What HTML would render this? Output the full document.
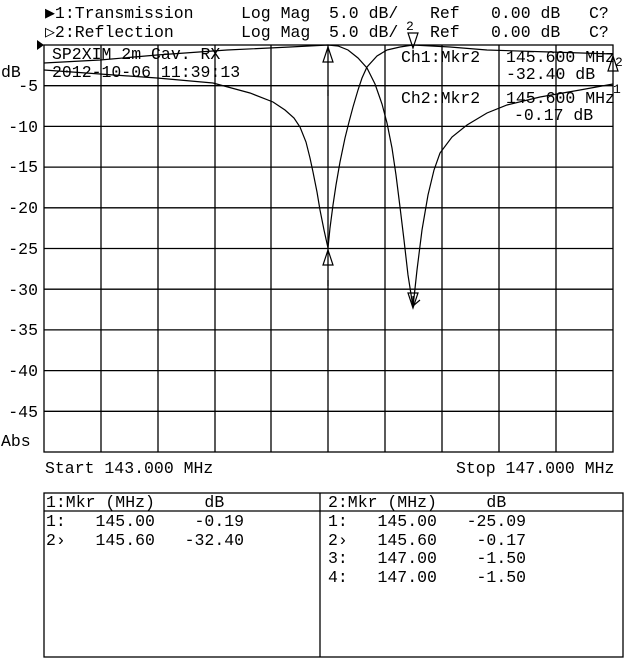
<!DOCTYPE html>
<html><head><meta charset="utf-8"><style>
body{margin:0;background:#fff;}
svg{display:block;}
text{font-family:"Liberation Mono","DejaVu Sans Mono",monospace;font-size:16.5px;fill:#000;white-space:pre;}
</style></head><body>
<svg width="640" height="659" viewBox="0 0 640 659" xmlns="http://www.w3.org/2000/svg" xml:space="preserve">
<rect width="640" height="659" fill="#fff"/>
<text x="45" y="18" style="font-size:16.5px">▶1:Transmission</text>
<text x="241" y="18">Log Mag</text>
<text x="329" y="18">5.0 dB/</text>
<text x="430" y="18">Ref</text>
<text x="491" y="18">0.00 dB</text>
<text x="589" y="18">C?</text>
<text x="45" y="37">▷2:Reflection</text>
<text x="241" y="37">Log Mag</text>
<text x="329" y="37">5.0 dB/</text>
<text x="430" y="37">Ref</text>
<text x="491" y="37">0.00 dB</text>
<text x="589" y="37">C?</text>
<polygon points="37,40 44,45 37,50" fill="#000"/>
<g stroke="#000" stroke-width="1.3" fill="none">
<rect x="44" y="45" width="569" height="407"/>
<path d="M101 45V452M158 45V452M215 45V452M271 45V452M328 45V452M385 45V452M442 45V452M499 45V452M556 45V452"/>
<path d="M44 85.7H613M44 126.4H613M44 167.1H613M44 207.8H613M44 248.5H613M44 289.2H613M44 329.9H613M44 370.6H613M44 411.3H613"/>
</g>
<g text-anchor="end">
<text x="38" y="91">-5</text><text x="38" y="132">-10</text><text x="38" y="172">-15</text>
<text x="38" y="213">-20</text><text x="38" y="254">-25</text><text x="38" y="295">-30</text>
<text x="38" y="335">-35</text><text x="38" y="376">-40</text><text x="38" y="417">-45</text>
</g>
<text x="1" y="77">dB</text>
<text x="1" y="446">Abs</text>
<text x="52" y="59">SP2XIM 2m Cav. RX</text>
<text x="52" y="77">2012-10-06 11:39:13</text>
<text x="401" y="62">Ch1:Mkr2</text>
<text x="506" y="62">145.600 MHz</text>
<text x="506" y="79">-32.40 dB</text>
<text x="401" y="103">Ch2:Mkr2</text>
<text x="506" y="103">145.600 MHz</text>
<text x="514" y="120">-0.17 dB</text>
<g stroke="#000" stroke-width="1.2" fill="none">
<path d="M44 63 L100 60 L157 55 L227 50 L290 47 L328 45 L338 46 L348 50 L358 58 L367 68 L375 84 L382 104 L387 123 L392 148 L396 175 L400 207 L404 240 L408 275 L413 307 L417 270 L422 230 L428 195 L434 170 L440 153 L452 137 L467 125 L487 113 L507 105 L540 97 L580 90 L613 84"/>
<path d="M44 70 L100 74 L157 78 L213 83 L250 93 L273 102 L285 110 L294 118 L300 127 L306 142 L310 158 L313 172 L317 192 L320 210 L324 230 L328 248 L330 228 L333 205 L336 185 L340 162 L345 138 L349 122 L353 107 L358 90 L362 78 L367 67 L377 56 L387 50 L400 47 L413 45 L450 47 L487 50 L550 52 L613 54"/>
<path d="M328 47 L323 62 L333 62 Z"/>
<path d="M328 250 L323 265 L333 265 Z"/>
<path d="M328 90V96M328 280V286"/>
<path d="M413 48 L408 33 L418 33 Z"/>
<path d="M413 308 L408 293 L418 293 Z"/>
<path d="M613 56 L608 71 L618 71 Z"/>
<path d="M413 296 L413 306 L420 300"/>
</g>
<text x="406" y="30" style="font-size:13px">2</text>
<text x="615" y="66" style="font-size:13px">2</text>
<text x="613" y="93" style="font-size:13px">1</text>
<text x="45" y="473">Start 143.000 MHz</text>
<text x="456" y="473">Stop 147.000 MHz</text>
<g stroke="#000" stroke-width="1.3" fill="none">
<rect x="44" y="493" width="579" height="164"/>
<path d="M320 493V657M44 511H623"/>
</g>
<text x="46" y="507">1:Mkr (MHz)     dB</text>
<text x="46" y="526">1:   145.00    -0.19</text>
<text x="46" y="545">2›   145.60   -32.40</text>
<text x="328" y="507">2:Mkr (MHz)     dB</text>
<text x="328" y="526">1:   145.00   -25.09</text>
<text x="328" y="545">2›   145.60    -0.17</text>
<text x="328" y="563">3:   147.00    -1.50</text>
<text x="328" y="582">4:   147.00    -1.50</text>
</svg>
</body></html>
